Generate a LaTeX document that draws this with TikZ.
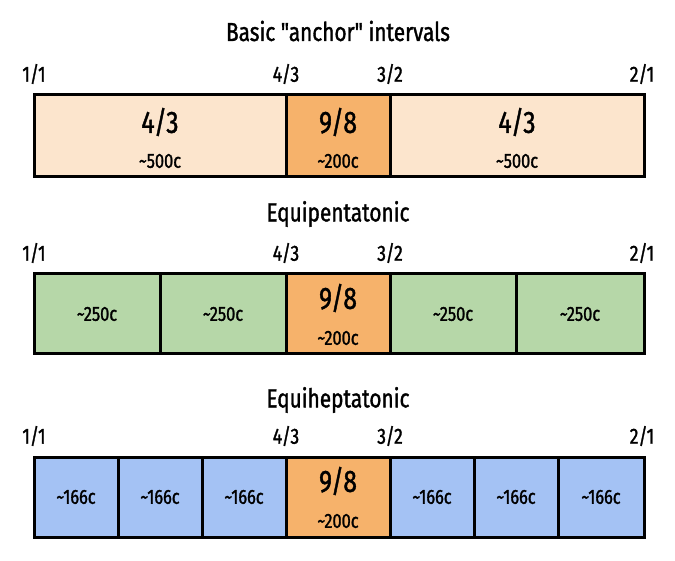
\documentclass[tikz,border=0pt]{standalone}
\usepackage{fontspec}
\newfontfamily\dfont[FakeStretch=0.8,FakeBold=1.3]{Fira Sans}
\definecolor{peach}{HTML}{FCE5CD}
\definecolor{orangec}{HTML}{F6B26B}
\definecolor{greenc}{HTML}{B6D7A8}
\definecolor{bluec}{HTML}{A4C2F4}
\begin{document}
\begin{tikzpicture}[x=1pt,y=-1pt,
  cell/.style={draw=black,line width=3pt,inner sep=0pt,minimum width=#1},
  row1/.style={minimum height=82pt},
  row2/.style={minimum height=80pt},
  row3/.style={minimum height=80pt},
  bigtxt/.style={inner sep=0pt,font=\dfont\fontsize{31}{31}\selectfont},
  smalltxt/.style={inner sep=0pt,font=\dfont\fontsize{20.5}{20.5}\selectfont},
  ratio/.style={inner sep=0pt,font=\dfont\fontsize{22}{22}\selectfont},
  ttl/.style={inner sep=0pt,font=\dfont\fontsize{26}{26}\selectfont}]
\useasboundingbox (0,0) rectangle (675,561);
% ---------- Row 1
\node[ttl] (t1) at (338,31) {Basic "anchor" intervals};
\node[ratio] (r1a) at (34,74) {1/1};
\node[ratio] (r1b) at (286,74) {4/3};
\node[ratio] (r1c) at (390,74) {3/2};
\node[ratio] (r1d) at (642,74) {2/1};
\node[cell=252pt,row1,fill=peach] (c11) at (160,136) {};
\node[cell=104pt,row1,fill=orangec] (c12) at (338,136) {};
\node[cell=254pt,row1,fill=peach] (c13) at (517,136) {};
\node[bigtxt] (c11a) at (160,122) {4/3};
\node[smalltxt] (c11b) at (160,161) {\textasciitilde500c};
\node[bigtxt] (c12a) at (338,122) {9/8};
\node[smalltxt] (c12b) at (338,161) {\textasciitilde200c};
\node[bigtxt] (c13a) at (517,122) {4/3};
\node[smalltxt] (c13b) at (517,161) {\textasciitilde500c};
% ---------- Row 2
\node[ttl] (t2) at (338,214) {Equipentatonic};
\node[ratio] (r2a) at (34,253) {1/1};
\node[ratio] (r2b) at (286,253) {4/3};
\node[ratio] (r2c) at (390,253) {3/2};
\node[ratio] (r2d) at (642,253) {2/1};
\node[cell=126pt,row2,fill=greenc] (c21) at (97,314) {};
\node[cell=126pt,row2,fill=greenc] (c22) at (223,314) {};
\node[cell=104pt,row2,fill=orangec] (c23) at (338,314) {};
\node[cell=126pt,row2,fill=greenc] (c24) at (453,314) {};
\node[cell=128pt,row2,fill=greenc] (c25) at (580,314) {};
\node[smalltxt] (c21a) at (97,314) {\textasciitilde250c};
\node[smalltxt] (c22a) at (223,314) {\textasciitilde250c};
\node[bigtxt] (c23a) at (338,298) {9/8};
\node[smalltxt] (c23b) at (338,338) {\textasciitilde200c};
\node[smalltxt] (c24a) at (453,314) {\textasciitilde250c};
\node[smalltxt] (c25a) at (580,314) {\textasciitilde250c};
% ---------- Row 3
\node[ttl] (t3) at (338,400) {Equiheptatonic};
\node[ratio] (r3a) at (34,436) {1/1};
\node[ratio] (r3b) at (286,436) {4/3};
\node[ratio] (r3c) at (390,436) {3/2};
\node[ratio] (r3d) at (642,436) {2/1};
\node[cell=84pt,row3,fill=bluec] (c31) at (76,497) {};
\node[cell=84pt,row3,fill=bluec] (c32) at (160,497) {};
\node[cell=84pt,row3,fill=bluec] (c33) at (244,497) {};
\node[cell=104pt,row3,fill=orangec] (c34) at (338,497) {};
\node[cell=84pt,row3,fill=bluec] (c35) at (432,497) {};
\node[cell=84pt,row3,fill=bluec] (c36) at (516,497) {};
\node[cell=86pt,row3,fill=bluec] (c37) at (601,497) {};
\node[smalltxt] (c31a) at (76,497) {\textasciitilde166c};
\node[smalltxt] (c32a) at (160,497) {\textasciitilde166c};
\node[smalltxt] (c33a) at (244,497) {\textasciitilde166c};
\node[bigtxt] (c34a) at (338,481) {9/8};
\node[smalltxt] (c34b) at (338,521) {\textasciitilde200c};
\node[smalltxt] (c35a) at (432,497) {\textasciitilde166c};
\node[smalltxt] (c36a) at (516,497) {\textasciitilde166c};
\node[smalltxt] (c37a) at (601,497) {\textasciitilde166c};
\end{tikzpicture}
\end{document}
